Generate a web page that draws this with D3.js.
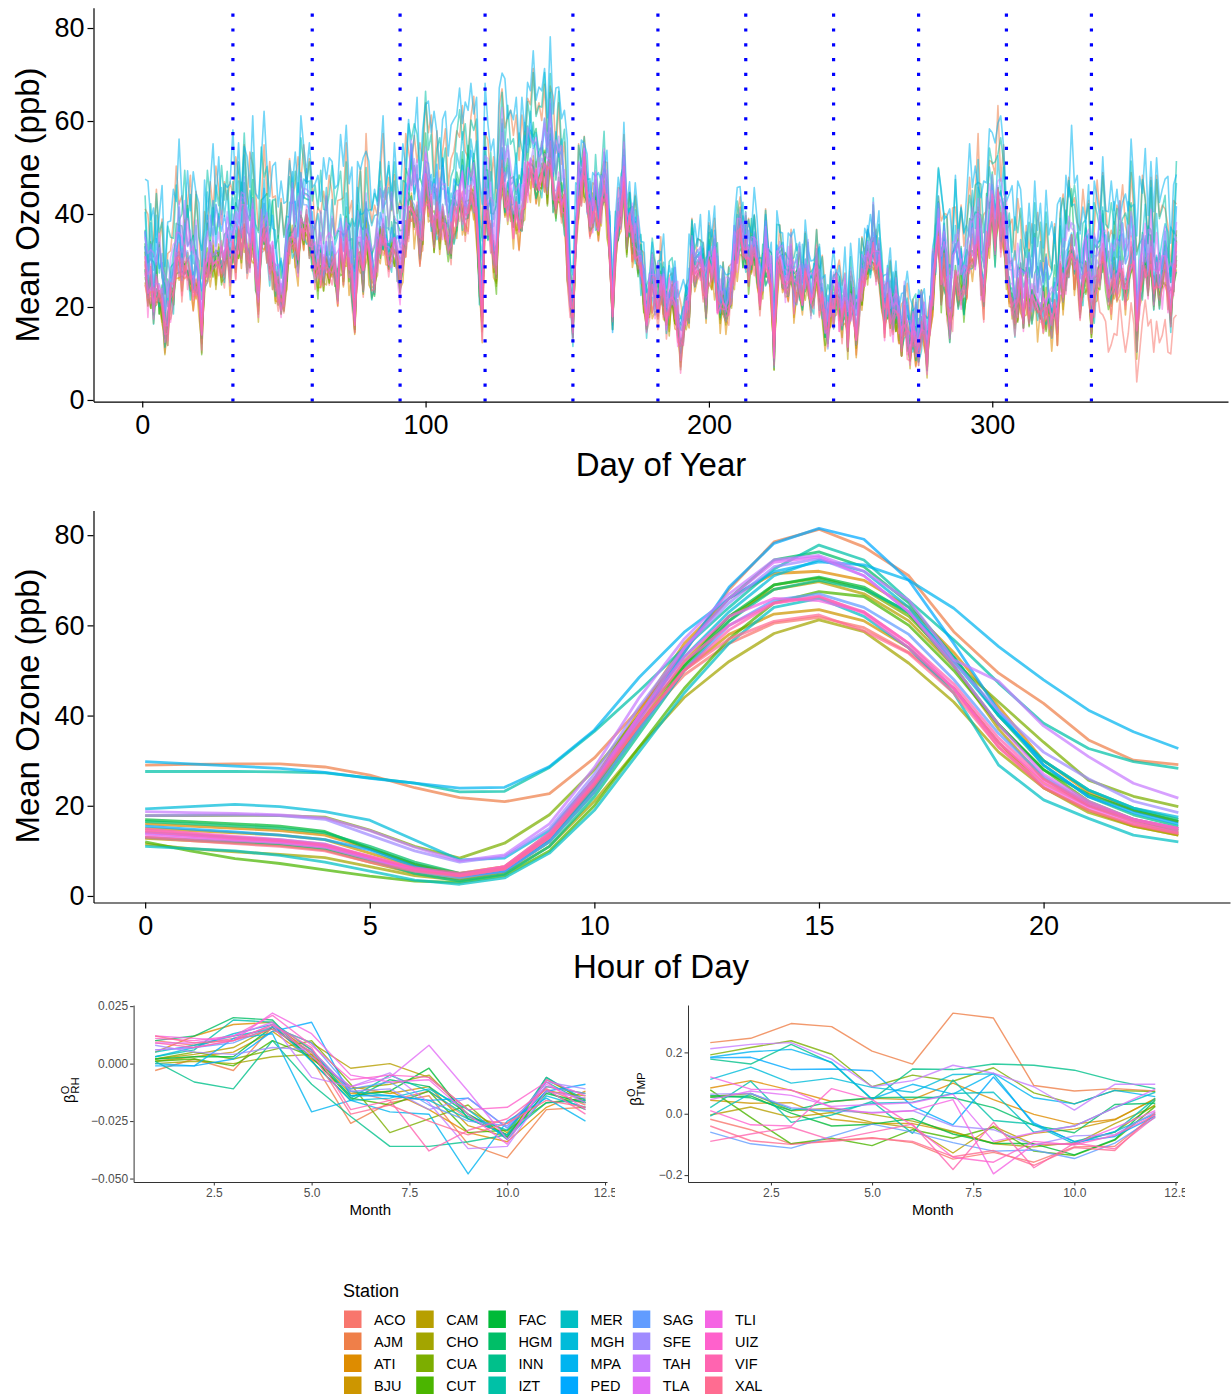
<!DOCTYPE html>
<html><head><meta charset="utf-8">
<script src="https://cdn.jsdelivr.net/npm/d3@7"></script>
<style>body{margin:0;background:#fff;} svg{display:block;font-family:"Liberation Sans",Arial,Helvetica,sans-serif;}</style>
</head><body>
<svg id="chart" width="1231" height="1397"></svg>
<script>
// ---------------- DATA ----------------
const stations = ["ACO","AJM","ATI","BJU","CAM","CHO","CUA","CUT","FAC","HGM","INN","IZT","MER","MGH","MPA","PED","SAG","SFE","TAH","TLA","TLI","UIZ","VIF","XAL"];
const stationColors = ["#F8766D","#EF7F49","#DE8C00","#CD9600","#B79F00","#A3A500","#7CAE00","#4BB500","#00BA38","#00BE67","#00C08B","#00C1A7","#00BFC4","#00BBDA","#00B4F0","#00A9FF","#619CFF","#A08BFF","#C77CFF","#E26EF6","#F564E3","#FF61CC","#FF64B0","#FF6C91"];

// first day of each month (vertical dotted lines)
const monthStarts = [32,60,91,121,152,182,213,244,274,305,335];
const topYTicks = [0,20,40,60,80];
const topXTicks = [0,100,200,300];

// network-median daily mean ozone (ppb), day 1..365
const dailyCore = [
30,22,25,20,24,22,21,15,17,21, 24,29,31,26,29,28,27,24,27,21, 15,26,29,29,30,29,31,30,29,32,
29,33,31,34,33,37,31,32,36,27, 22,34,37,33,30,29,26,24,22,21, 29,34,36,32,31,36,37,39,34,32,
29,27,29,27,30,27,30,28,25,32, 29,34,29,25,17,30,32,27,36,30, 27,24,32,34,36,32,30,33,34,29,
25,30,36,39,42,39,40,34,37,46, 43,40,37,40,36,39,37,35,34,39, 40,42,42,39,41,43,44,40,26,17,
43,38,36,31,28,42,49,44,43,41, 39,40,37,40,44,47,49,50,47,46, 49,50,47,53,44,42,46,43,41,31,
23,17,33,44,46,49,43,40,39,42, 39,41,47,40,32,17,33,38,41,46, 36,37,35,33,30,28,24,17,22,24,
22,20,24,22,18,19,23,20,16,10, 16,17,22,28,28,27,30,26,23,27, 29,28,23,19,22,17,21,25,29,32,
36,32,33,28,30,32,29,23,26,30, 28,24,10,27,30,26,24,26,29,23, 26,24,23,25,26,20,24,29,23,20,
17,14,21,19,23,19,17,23,14,20, 21,12,21,24,27,29,30,33,29,27, 24,17,21,19,17,20,17,13,17,14,
12,14,12,10,16,14,10,17,23,30, 36,24,29,22,16,20,27,25,24,22, 27,30,32,29,36,26,22,33,37,40,
34,42,36,37,29,23,21,19,22,24, 19,23,21,20,22,19,21,19,20,18, 17,20,17,26,23,27,30,34,29,27,
22,24,28,25,17,22,26,29,31,27, 23,22,27,24,29,25,23,27,31,29, 14,23,27,29,26,30,23,27,25,24,
30,23,20,25,31];

// per-station level above the median and day-to-day spread (ppb)
const stationOffset = [-1,6,-2,-1,-1,0,1,-1,1,3,2,6,-1,4,8,3,2,3,4,2,0,0,0,-1];
const stationAmp    = [2.6,3.4,1.8,1.7,1.7,1.7,1.8,1.7,1.8,2.4,2.2,3.2,1.8,2.6,3.8,2.2,2.0,2.2,2.2,2.0,1.8,1.7,1.7,1.7];
// per-station daily departure codes (digit 0..9, 4.5 = none), day 1..365
const stationNoise = [
"4536454354 5463545346 3545465435 4536453465 5436454354 3546453546 4536545435 5463454356 3546354546 4653545435 5436454536 4563545354 3546453546 5435465435 4536454354 5463545346 3546453546 4536545435 5346354546 4635454356 3546453546 5436454354 4563545346 3545465435 4536453465 5436454354 3546453546 4536545435 5463454356 3546354546 4653545435 5436454536 4563545354 3545464101 0101210010 1012100101 00120",
"6857968576 7968579687 6758697586 8697586978 7586978697 6857968587 5768697586 7968578697 6857968576 8697586978 7968579687 8797689798 7869798789 8979687978 6857968576 4536454354 3546453546 4536545435 5463454356 3546354546 4653545435 5436454536 4563545354 3546453546 5435465435 4536454354 3546453546 4536545435 5768697586 6857968576 7968578697 5768697586 6857968576 7968579687 6758697586 8697586978 67586",
"3546453546 5436454354 4563545346 2547364527 4536453465 6354273645 5436454536 3627453627 4653545435 5364725346 3546354546 4725364253 5463454356 2736452736 4536545435 6453726354 3545465435 3725463572 4563545354 4627354627 5273645372 3546453546 7362546372 4536454354 2645375264 5463545346 3546453546 4536545435 5436454354 3627453627 4653545435 5364725346 2547364527 4536453465 6354273645 5436454536 35464",
"5463545346 3627453627 4536454354 6453726354 3546453546 2645375264 4653545435 5273645372 3545465435 4725364253 5436454354 2736452736 4563545354 6354273645 3546354546 5364725346 4536545435 3725463572 5463454356 4627354627 2547364527 4536453465 7362546372 3546453546 5436454536 4563545346 6453726354 3545465435 4653545435 2645375264 5273645372 4536454354 3627453627 5463545346 4725364253 3546453546 45364",
"4725364253 3546453546 5364725346 4536545435 2736452736 5463454356 6354273645 3545465435 4627354627 5436454536 3725463572 4563545354 2547364527 4653545435 5273645372 3546354546 7362546372 4536453465 6453726354 5436454354 2645375264 3546453546 4536454354 5463545346 3627453627 4563545346 5364725346 2736452736 4725364253 3545465435 6354273645 5463454356 4627354627 3546354546 5436454536 2547364527 53647",
"2736452736 4653545435 6453726354 3546354546 5463454356 3725463572 4536453465 2645375264 5436454536 4563545354 7362546372 3545465435 4725364253 5273645372 3546453546 6354273645 4536545435 2547364527 5364725346 3627453627 4653545435 4627354627 5436454354 3546453546 4563545346 6453726354 2736452736 5463545346 3545465435 4536454354 5273645372 3725463572 4536453465 2645375264 5463454356 4653545435 37254",
"5364725346 2547364527 4563545354 6354273645 3546453546 4725364253 5436454354 2736452736 4653545435 3627453627 5463545346 4536545435 6453726354 3545465435 4627354627 5273645372 2645375264 4536454354 3725463572 5436454536 4563545346 7362546372 3546354546 4536453465 5463454356 2547364527 4725364253 6354273645 3546453546 5364725346 4653545435 2736452736 5436454354 3627453627 4563545354 6453726354 45637",
"3627453627 5436454536 2645375264 4563545346 6453726354 3546453546 5273645372 4536454354 2547364527 5463545346 4725364253 3545465435 6354273645 4653545435 3725463572 5364725346 4536453465 2736452736 5463454356 4627354627 3546354546 7362546372 4536545435 5436454354 2645375264 4563545354 6453726354 3546453546 5273645372 4536454354 2547364527 3627453627 5463545346 4725364253 3545465435 5436454536 26453",
"6453726354 4536453465 3546354546 5273645372 4627354627 2547364527 5463545346 3545465435 7362546372 4536545435 3627453627 5436454536 2645375264 4653545435 5364725346 3546453546 4725364253 6354273645 4563545354 2736452736 5436454354 3725463572 4536454354 5463454356 2547364527 3546453546 6453726354 4563545346 5273645372 3545465435 4627354627 2736452736 5364725346 4653545435 3546354546 6354273645 54634",
"6574686574 5768596857 6475867465 7586957685 5768596857 6574686574 7586957685 6475867465 5768596857 8697586978 6574686574 7586957685 6857968576 7586957685 6475867465 4536454354 3546453546 4563545346 5436454536 3627453627 4653545435 5364725346 3545465435 4725364253 5463454356 2736452736 4536545435 5273645372 6574686574 5768596857 6475867465 7586957685 5768596857 6574686574 7586957685 6475867465 57685",
"5768596857 6475867465 4536454354 6574686574 5463545346 7586957685 4653545435 5768596857 6354273645 6475867465 5436454536 7586957685 6574686574 5768596857 6475867465 3546453546 4725364253 2736452736 5463454356 3627453627 4563545354 5273645372 3545465435 4536453465 2645375264 5436454354 3725463572 4627354627 5768596857 6475867465 5463545346 6574686574 4653545435 7586957685 5364725346 6475867465 57685",
"7586978697 6857968587 8697586978 5768697586 7968578697 6758697586 8797689798 6857968576 7968579687 7869798789 6857968576 8979687978 7586978697 8697586978 7968579687 5436454536 4563545354 3546453546 5435465435 4536454354 5463545346 3546453546 4536545435 5346354546 4635454356 3546453546 5436454354 4563545346 7968579687 6758697586 8697586978 7586978697 6857968587 5768697586 7968578697 8697586978 75869",
"4563545346 2736452736 5436454536 3546453546 6354273645 4725364253 3545465435 5463545346 2645375264 4536454354 7362546372 3627453627 5364725346 4653545435 2547364527 5273645372 4536545435 6453726354 3546354546 4627354627 5436454354 3725463572 4563545354 2736452736 5463454356 4536453465 3545465435 6354273645 4725364253 5436454536 2645375264 4653545435 3546453546 5364725346 4536454354 3627453627 46273",
"7586957685 6574686574 8697586978 5768596857 6475867465 7586957685 6857968576 5768596857 7968579687 6475867465 6574686574 8697586978 7586957685 6857968576 5768596857 4653545435 3546453546 5436454354 4563545346 3627453627 5463545346 4725364253 3545465435 5273645372 4536454354 2736452736 5364725346 4563545354 6475867465 7586957685 5768596857 6857968576 7968579687 6574686574 8697586978 5768596857 68579",
"7968579687 8697586978 6857968576 7968578697 8797689798 6758697586 7869798789 8979687978 6857968587 7968579687 8797689798 8979897989 9879798978 8979687978 7869798789 4563545354 5436454536 4536545435 3546453546 5463545346 4635454356 5435465435 3546453546 4536454354 5346354546 4563545346 3546453546 5436454354 6857968576 7968579687 8797689798 7586978697 8697586978 6758697586 7968578697 8979687978 79687",
"6475867465 5463545346 7586957685 4536454354 6574686574 5768596857 4653545435 6475867465 5436454536 7586957685 5768596857 6574686574 4563545354 6857968576 5768596857 3546453546 5364725346 4536545435 2736452736 5463454356 3725463572 4627354627 5436454354 3545465435 4725364253 2645375264 4563545346 5273645372 6574686574 5463545346 6475867465 7586957685 4653545435 5768596857 6574686574 5436454536 64758",
"5436454536 6475867465 3546354546 5768596857 4563545354 6574686574 3627453627 5463545346 6475867465 4536453465 5768596857 3545465435 6574686574 4653545435 5436454354 2736452736 4725364253 5364725346 3546453546 4536545435 2645375264 5463454356 3725463572 4563545346 5273645372 3546453546 4627354627 6354273645 5768596857 4536454354 6475867465 5463545346 3545465435 6574686574 4653545435 5436454536 54364",
"6574686574 4536454354 5768596857 6475867465 3546453546 7586957685 5463545346 6574686574 4653545435 5768596857 6475867465 4563545354 7586957685 5436454536 6857968576 4725364253 3546354546 5463454356 2736452736 4536453465 5273645372 3627453627 4563545346 5364725346 2547364527 4653545435 3725463572 5436454354 6475867465 5768596857 4536545435 7586957685 6574686574 4563545354 5768596857 6475867465 45365",
"5768596857 7586957685 4563545346 6475867465 5436454536 6574686574 7586957685 4536545435 5768596857 6857968576 6475867465 5463545346 7968579687 6574686574 5768596857 3546453546 4627354627 5364725346 3725463572 4536454354 2645375264 5463545346 3545465435 4725364253 5436454354 2736452736 4563545354 5273645372 5768596857 6574686574 7586957685 4653545435 6475867465 5768596857 6857968576 4563545346 65746",
"4653545435 5768596857 3546453546 6475867465 4725364253 5436454354 6574686574 3545465435 5463545346 5768596857 4536454354 6475867465 3627453627 5364725346 4563545354 2547364527 5273645372 4536453465 6354273645 3546354546 4627354627 5436454536 2736452736 4653545435 3725463572 5463454356 4536545435 2645375264 5768596857 4563545346 6574686574 3546453546 5436454354 6475867465 4725364253 5768596857 46535",
"3545465435 4627354627 5463454356 2645375264 4536545435 6354273645 3546453546 5436454536 4725364253 2736452736 5364725346 4563545354 3627453627 6453726354 4536453465 5273645372 3546354546 4653545435 2547364527 5463545346 3725463572 4536454354 7362546372 5436454354 3545465435 4563545346 6354273645 2736452736 4627354627 5364725346 3546453546 4725364253 5463454356 2645375264 4536545435 5273645372 35454",
"5273645372 3545465435 4536453465 6453726354 2547364527 5436454354 4627354627 3546453546 5463454356 7362546372 4536545435 3725463572 5364725346 2645375264 4563545346 6354273645 3627453627 4653545435 5436454536 2736452736 4725364253 5463545346 3546354546 4536454354 6453726354 2547364527 5273645372 4563545354 3545465435 5436454354 4627354627 2736452736 5364725346 3546453546 4653545435 6354273645 52736",
"4627354627 5364725346 2736452736 4536454354 6354273645 3546453546 5463545346 2547364527 4653545435 5436454536 3725463572 4536453465 6453726354 2645375264 5273645372 4563545354 3545465435 5463454356 7362546372 4725364253 3627453627 5436454354 4536545435 2736452736 5364725346 3546354546 4653545435 6354273645 4563545346 2547364527 5273645372 3546453546 4536454354 6453726354 3725463572 5463545346 46273",
"2547364527 4653545435 5436454354 3627453627 6453726354 4536545435 2736452736 5364725346 3546453546 4725364253 5463454356 6354273645 3545465435 4563545346 5273645372 2645375264 4536453465 3725463572 5436454536 4627354627 3546354546 6453726354 5463545346 2547364527 4653545435 4536454354 7362546372 3546453546 5364725346 2736452736 4725364253 5436454354 3627453627 4563545354 6354273645 3545465435 25473"
];

// mean ozone by hour of day (0..23), one row per station (ppb)
const hourTicks = [0,5,10,15,20];
const hourlyOzone = [
[14.5,13.8,13.0,12.2,11.2,8.5,6.0,4.7,6.2,13.5,25.0,38.0,49.0,56.0,60.5,61.8,59.5,54.0,46.0,34.0,25.0,20.0,17.0,15.0],
[29.0,29.2,29.3,29.3,28.6,26.8,24.0,21.8,20.9,22.7,30.6,41.5,54.0,68.0,78.5,81.3,77.4,71.0,58.6,49.4,42.7,34.6,30.1,29.1],
[16.0,15.5,15.0,14.5,13.5,10.5,7.0,5.0,6.5,14.0,26.0,41.0,56.0,66.0,71.5,72.0,70.0,64.0,54.0,42.0,30.0,23.0,19.0,16.5],
[15.0,14.5,14.0,13.5,12.5,9.5,6.5,4.8,6.0,13.0,24.0,38.0,50.0,58.0,62.5,63.5,61.0,55.0,46.0,34.0,24.0,19.0,15.5,13.5],
[12.8,12.3,11.8,11.2,10.2,7.5,5.0,3.8,5.5,12.5,24.0,38.0,52.0,62.0,68.0,69.7,67.0,61.0,51.0,37.0,26.0,20.0,16.5,14.0],
[11.5,10.5,9.8,9.2,8.5,6.5,4.5,3.5,5.0,11.0,21.0,33.0,44.0,52.0,58.2,61.2,58.6,51.6,43.0,31.9,24.0,18.5,15.5,13.5],
[17.8,17.8,17.9,17.8,17.5,14.6,11.0,8.4,11.7,18.0,28.0,40.0,51.0,61.0,69.0,70.5,68.0,62.0,52.0,43.0,34.1,25.7,22.1,19.8],
[12.0,10.0,8.3,7.2,5.8,4.4,3.3,3.0,4.5,10.0,20.0,33.0,46.0,57.0,65.0,67.5,66.4,60.0,50.0,38.0,28.0,21.0,17.0,14.5],
[16.9,16.5,16.0,15.5,14.3,10.5,7.0,4.5,5.5,12.0,23.0,37.0,51.0,62.0,69.0,70.7,68.5,62.7,51.0,38.0,28.0,22.5,19.0,16.5],
[16.5,16.0,15.5,15.0,14.0,11.0,7.5,5.0,6.0,13.0,25.0,40.0,55.0,66.0,74.5,76.3,73.0,65.0,53.0,40.0,30.0,23.5,19.5,17.0],
[13.0,12.5,12.0,11.5,10.5,8.0,5.0,3.3,4.8,11.0,22.0,36.0,50.0,61.0,68.0,70.0,68.0,63.0,53.0,40.0,29.0,22.0,18.0,15.5],
[27.6,27.6,27.6,27.5,27.3,26.2,25.0,23.1,23.2,28.5,36.5,45.5,55.0,64.0,72.5,77.8,74.5,65.5,56.8,47.2,38.3,32.7,29.8,28.3],
[11.0,10.5,10.0,9.0,7.5,5.5,3.5,2.6,4.0,9.5,19.0,32.0,45.0,56.0,64.0,66.0,62.0,55.0,45.0,29.0,21.3,17.2,13.5,12.0],
[19.3,19.8,20.3,19.8,18.7,16.8,12.4,8.0,8.4,14.5,26.0,40.0,53.0,63.0,71.0,74.5,72.0,64.0,52.0,40.0,30.0,23.5,19.5,17.5],
[29.8,29.3,28.8,28.3,27.4,26.1,25.0,23.9,24.1,28.7,36.8,48.5,58.5,66.0,71.9,74.1,73.4,70.0,63.8,55.3,47.9,41.2,36.4,32.7],
[15.5,14.8,14.2,13.5,12.5,10.2,6.5,4.3,5.5,12.5,24.0,39.0,54.0,68.5,78.2,81.5,79.1,70.0,56.0,41.0,29.0,22.0,18.5,16.0],
[14.0,13.5,13.0,12.5,11.5,8.5,5.5,4.0,5.5,12.0,23.0,37.0,50.0,60.0,65.6,67.0,64.0,58.0,48.0,36.0,26.5,20.5,17.0,15.0],
[17.8,17.9,18.0,17.8,17.0,13.5,10.0,7.5,8.8,15.0,27.0,42.0,55.0,65.0,73.0,74.8,71.0,63.0,52.0,41.0,31.9,26.0,21.0,18.5],
[18.7,18.5,18.3,18.0,17.3,14.5,10.8,7.8,9.1,16.0,28.5,44.0,57.0,67.0,74.5,75.5,72.0,65.6,52.4,47.6,37.7,30.9,25.0,21.7],
[13.8,13.2,12.5,12.0,11.0,8.5,5.8,4.5,6.0,13.0,25.0,40.0,55.0,66.0,74.0,75.2,71.0,63.0,51.0,38.0,27.0,21.0,17.0,15.0],
[13.3,12.8,12.3,11.8,10.8,8.2,5.8,4.7,6.5,14.0,26.0,40.0,53.0,62.0,66.0,65.5,63.0,56.0,46.0,33.0,24.5,19.5,16.0,14.0],
[14.8,14.0,13.2,12.5,11.5,8.8,6.0,4.5,6.0,13.0,25.0,39.0,52.0,60.0,65.0,66.5,62.7,55.0,46.0,34.0,25.5,20.0,16.5,14.5],
[14.2,13.5,12.8,12.2,11.2,8.8,6.2,5.0,6.5,13.5,25.0,38.0,50.0,59.0,64.9,66.3,63.0,56.0,47.0,35.0,26.0,20.5,17.0,15.0],
[13.0,12.3,11.6,11.0,10.0,7.5,5.5,4.4,6.0,13.0,24.5,38.0,50.0,57.0,60.9,62.3,58.8,53.8,45.0,33.0,24.0,19.0,15.8,13.8]
];

// monthly regression coefficients, months 1..12, one row per station
const monthTicks = [2.5,5,7.5,10,12.5];
const rhTicks = [-0.05,-0.025,0,0.025];
const tmpTicks = [-0.2,0,0.2];
const betaRH = [
[0.010,0.008,0.011,0.016,0.006,-0.012,-0.016,-0.012,-0.024,-0.026,-0.011,-0.018],
[-0.003,0.002,-0.003,0.016,0.002,-0.026,-0.017,-0.014,-0.035,-0.041,-0.020,-0.019],
[0.005,0.012,0.017,0.018,0.004,-0.013,-0.012,-0.020,-0.030,-0.034,-0.019,-0.012],
[0.001,0.003,0.005,0.014,0.002,-0.010,-0.013,-0.010,-0.027,-0.032,-0.012,-0.014],
[0.002,0.004,0.007,0.016,0.009,-0.002,0.000,-0.006,-0.020,-0.030,-0.007,-0.016],
[0.000,0.001,0.000,0.003,0.004,-0.011,-0.009,-0.005,-0.022,-0.031,-0.010,-0.013],
[0.002,0.005,0.002,0.006,0.010,-0.009,-0.030,-0.024,-0.018,-0.033,-0.006,-0.017],
[0.001,0.002,-0.001,0.010,0.003,-0.015,-0.018,-0.012,-0.030,-0.029,-0.017,-0.015],
[0.002,0.003,0.003,0.016,0.003,-0.014,-0.012,-0.002,-0.024,-0.031,-0.013,-0.017],
[0.010,0.012,0.020,0.019,0.001,-0.016,-0.007,-0.010,-0.022,-0.032,-0.012,-0.020],
[0.001,-0.008,-0.011,0.010,-0.009,-0.023,-0.036,-0.036,-0.034,-0.031,-0.017,-0.016],
[0.003,0.006,0.019,0.018,0.006,-0.015,-0.005,-0.012,-0.023,-0.029,-0.008,-0.017],
[0.005,0.008,0.012,0.015,0.005,-0.012,-0.014,-0.016,-0.024,-0.031,-0.006,-0.016],
[0.003,0.007,0.013,0.017,0.001,-0.016,-0.015,-0.011,-0.020,-0.033,-0.014,-0.019],
[0.000,-0.001,0.011,0.013,-0.021,-0.016,-0.021,-0.022,-0.048,-0.025,-0.015,-0.025],
[-0.001,-0.001,0.002,0.014,0.018,-0.014,-0.014,-0.016,-0.015,-0.028,-0.012,-0.009],
[0.006,0.007,0.009,0.016,0.009,-0.011,-0.008,-0.018,-0.025,-0.027,-0.010,-0.013],
[0.008,0.005,0.004,0.007,0.006,-0.012,-0.011,-0.020,-0.015,-0.028,-0.008,-0.011],
[0.006,0.007,0.010,0.017,-0.006,-0.010,-0.004,-0.017,-0.037,-0.036,-0.012,-0.015],
[0.009,0.009,0.012,0.018,0.003,-0.010,-0.006,0.008,-0.012,-0.033,-0.009,-0.017],
[0.012,0.011,0.010,0.022,0.013,-0.005,-0.008,-0.007,-0.022,-0.035,-0.007,-0.014],
[0.011,0.010,0.012,0.021,0.008,-0.007,-0.005,-0.006,-0.020,-0.019,-0.008,-0.020],
[0.009,0.007,0.010,0.017,0.007,-0.020,-0.016,-0.038,-0.029,-0.024,-0.011,-0.022],
[0.012,0.009,0.010,0.015,0.005,-0.022,-0.018,-0.025,-0.031,-0.026,-0.016,-0.019]
];
const betaTMP = [
[-0.018,-0.052,-0.098,-0.088,-0.078,-0.094,-0.148,-0.126,-0.158,-0.108,-0.106,-0.002],
[0.232,0.246,0.294,0.284,0.204,0.162,0.328,0.312,0.092,0.074,0.082,0.074],
[0.084,0.108,0.076,0.040,0.050,0.046,0.100,0.046,-0.002,-0.034,-0.018,0.048],
[0.044,0.034,0.036,-0.018,-0.032,-0.032,-0.060,-0.096,-0.064,-0.050,-0.020,0.050],
[-0.004,0.022,-0.012,0.004,-0.028,-0.046,-0.128,-0.040,-0.100,-0.100,-0.032,0.026],
[0.056,0.066,0.010,0.018,-0.002,-0.024,-0.058,-0.098,-0.108,-0.094,-0.060,0.030],
[0.192,0.216,0.238,0.194,0.088,0.126,0.106,0.150,0.068,0.032,0.076,0.072],
[0.078,-0.012,-0.098,-0.080,-0.104,-0.052,-0.080,-0.044,-0.122,-0.136,-0.086,0.024],
[0.054,0.058,0.002,-0.040,-0.034,-0.016,-0.066,-0.096,-0.098,-0.134,-0.084,0.044],
[0.060,0.052,0.010,0.040,0.052,0.054,0.052,0.020,-0.038,-0.062,0.030,0.034],
[0.178,0.162,0.226,0.166,0.046,0.146,0.144,0.162,0.158,0.142,0.108,0.082],
[0.020,0.106,-0.028,-0.004,0.040,-0.064,0.110,-0.022,-0.034,-0.090,-0.060,0.050],
[-0.008,0.066,0.016,0.008,0.034,0.038,0.066,0.070,-0.060,-0.040,0.020,0.070],
[0.112,0.152,0.100,0.116,0.086,0.070,0.128,0.130,-0.036,-0.098,-0.058,0.000],
[0.184,0.202,0.210,0.168,0.048,0.096,0.064,0.132,0.052,0.032,0.076,0.056],
[0.182,0.184,0.144,0.146,0.140,0.024,-0.036,0.120,-0.030,-0.092,-0.074,-0.008],
[-0.060,-0.098,-0.112,-0.074,-0.034,-0.060,-0.094,-0.122,-0.118,-0.146,-0.096,-0.012],
[0.064,0.066,0.020,0.010,0.004,0.010,-0.040,-0.052,-0.102,-0.072,-0.068,0.006],
[0.212,0.226,0.232,0.178,0.088,0.108,0.158,0.132,0.088,0.012,0.096,0.096],
[0.046,0.074,0.060,0.024,0.030,0.036,0.064,-0.090,-0.062,-0.040,0.020,0.080],
[0.120,0.080,0.078,0.020,0.002,0.010,0.046,-0.196,-0.100,-0.098,-0.046,0.010],
[0.010,-0.036,-0.040,0.082,0.046,-0.038,-0.142,-0.158,-0.090,-0.102,-0.070,-0.004],
[-0.090,-0.066,-0.044,-0.086,-0.060,-0.034,-0.182,-0.028,-0.176,-0.096,-0.114,-0.010],
[-0.040,-0.088,-0.100,-0.090,-0.080,-0.090,-0.140,-0.120,-0.168,-0.110,-0.120,0.004]
];

// ---------------- DRAWING ----------------
const svg = d3.select('#chart');
svg.append('rect').attr('width',1231).attr('height',1397).attr('fill','#fff');
const minus = s => s.replace('-', '\u2212');

function styleAxis(g, fs, color, lineColor, lw) {
  g.select('.domain').attr('stroke', lineColor).attr('stroke-width', lw);
  g.selectAll('.tick line').attr('stroke', lineColor).attr('stroke-width', lw);
  g.selectAll('.tick text').attr('font-size', fs).attr('fill', color)
    .attr('font-family','"Liberation Sans",Arial,sans-serif');
}
function rotTitle(x, y, txt, fs) {
  svg.append('text').attr('transform', `translate(${x},${y}) rotate(-90)`)
    .attr('text-anchor','middle').attr('font-size', fs).attr('fill','#000').text(txt);
}

// ===== Panel 1: daily =====
const dayIdx = d3.range(1, dailyCore.length + 1);
const x1 = d3.scaleLinear().domain([-17.2, 383.2]).range([93.5, 1228]);
const y1 = d3.scaleLinear().domain([-0.35, 84.35]).range([401.6, 7.8]);
const line1 = d3.line().x((v,i)=>x1(dayIdx[i])).y(v=>y1(v));
const g1 = svg.append('g');
stations.forEach((s, si) => {
  const code = stationNoise[si].replace(/\s/g,'');
  const vals = dailyCore.map((c, i) => {
    const ch = code.charCodeAt(i);
    const n = (ch >= 48 && ch <= 57) ? (ch - 48 - 4.5) : 0;
    return c + stationOffset[si] + stationAmp[si] * n;
  });
  g1.append('path').attr('d', line1(vals)).attr('fill','none')
    .attr('stroke', stationColors[si]).attr('stroke-width', 1.6)
    .attr('stroke-opacity', 0.55).attr('stroke-linejoin','round');
});
svg.append('g').selectAll('line').data(monthStarts).join('line')
  .attr('x1', d=>x1(d)).attr('x2', d=>x1(d)).attr('y1', 401.6).attr('y2', 7.8)
  .attr('stroke','#0000FF').attr('stroke-width', 3.2).attr('stroke-dasharray','3.2 11.6');
const ax1 = svg.append('g').attr('transform','translate(0,401.6)')
  .call(d3.axisBottom(x1).tickValues(topXTicks).tickSize(6).tickSizeOuter(0).tickPadding(7));
styleAxis(ax1, 27, '#000', '#000', 1.2);
const ay1 = svg.append('g').attr('transform','translate(93.5,0)')
  .call(d3.axisLeft(y1).tickValues(topYTicks).tickSize(6).tickSizeOuter(0).tickPadding(3));
styleAxis(ay1, 27, '#000', '#000', 1.2);
svg.append('text').attr('x', 661).attr('y', 476).attr('text-anchor','middle')
  .attr('font-size', 33).text('Day of Year');
rotTitle(39, 205, 'Mean Ozone (ppb)', 33);

// ===== Panel 2: hourly =====
const hours = d3.range(24);
const x2 = d3.scaleLinear().domain([-1.15, 24.15]).range([93.5, 1230]);
const y2 = d3.scaleLinear().domain([-1.45, 85.45]).range([902.5, 510.6]);
const line2 = d3.line().x((v,i)=>x2(hours[i])).y(v=>y2(v));
const g2 = svg.append('g');
hourlyOzone.forEach((vals, si) => {
  g2.append('path').attr('d', line2(vals)).attr('fill','none')
    .attr('stroke', stationColors[si]).attr('stroke-width', 2.8)
    .attr('stroke-opacity', 0.72).attr('stroke-linejoin','round');
});
const ax2 = svg.append('g').attr('transform','translate(0,902.5)')
  .call(d3.axisBottom(x2).tickValues(hourTicks).tickSize(6).tickSizeOuter(0).tickPadding(7));
styleAxis(ax2, 27, '#000', '#000', 1.2);
const ay2 = svg.append('g').attr('transform','translate(93.5,0)')
  .call(d3.axisLeft(y2).tickValues(topYTicks).tickSize(6).tickSizeOuter(0).tickPadding(3));
styleAxis(ay2, 27, '#000', '#000', 1.2);
svg.append('text').attr('x', 661).attr('y', 978).attr('text-anchor','middle')
  .attr('font-size', 33).text('Hour of Day');
rotTitle(39, 706, 'Mean Ozone (ppb)', 33);

// ===== Panels 3 & 4: monthly betas =====
const months = d3.range(1, 13);
function betaPanel(data, xRange, yDomain, yTicks, yFmt, clipRight, clipId, titleX, titleY, sub) {
  const defs = svg.append('defs');
  defs.append('clipPath').attr('id', clipId).append('rect')
    .attr('x', xRange[0] - 120).attr('y', 990).attr('width', clipRight - (xRange[0] - 120)).attr('height', 240);
  const g = svg.append('g').attr('clip-path', `url(#${clipId})`);
  const x = d3.scaleLinear().domain([0.45, 12.55]).range(xRange);
  const y = d3.scaleLinear().domain(yDomain).range([1182, 1005]);
  const ln = d3.line().x((v,i)=>x(months[i])).y(v=>y(v));
  data.forEach((vals, si) => {
    g.append('path').attr('d', ln(vals)).attr('fill','none')
      .attr('stroke', stationColors[si]).attr('stroke-width', 1.4)
      .attr('stroke-opacity', 0.8).attr('stroke-linejoin','round');
  });
  const ax = g.append('g').attr('transform','translate(0,1182)')
    .call(d3.axisBottom(x).tickValues(monthTicks).tickFormat(d3.format('.1f')).tickSize(3.5).tickSizeOuter(0).tickPadding(2.5));
  styleAxis(ax, 12, '#4D4D4D', '#333', 1);
  const ay = g.append('g').attr('transform',`translate(${xRange[0]},0)`)
    .call(d3.axisLeft(y).tickValues(yTicks).tickFormat(d => minus(yFmt(d))).tickSize(3.5).tickSizeOuter(0).tickPadding(2));
  styleAxis(ay, 12, '#4D4D4D', '#333', 1);
  svg.append('text').attr('x', (xRange[0] + xRange[1]) / 2).attr('y', 1215)
    .attr('text-anchor','middle').attr('font-size', 15).attr('fill','#000').text('Month');
  const t = svg.append('text').attr('transform', `translate(${titleX},${titleY}) rotate(-90)`)
    .attr('text-anchor','middle').attr('fill','#000');
  t.append('tspan').attr('font-size', 15).text('β');
  t.append('tspan').attr('font-size', 11).attr('dy', -6).text('O');
  t.append('tspan').attr('font-size', 11.5).attr('dy', 10).attr('dx', -8).text(sub);
}
betaPanel(betaRH, [133.6, 607], [-0.0515, 0.0255], rhTicks, d3.format('.3f'), 615, 'clipL', 75, 1090, 'RH');
betaPanel(betaTMP, [688, 1177.5], [-0.2225, 0.3545], tmpTicks, d3.format('.1f'), 1185, 'clipR', 641, 1089, 'TMP');

// ===== Legend =====
const lg = svg.append('g');
lg.append('text').attr('x', 343).attr('y', 1297).attr('font-size', 18).attr('fill','#000').text('Station');
stations.forEach((s, i) => {
  const col = Math.floor(i / 4), row = i % 4;
  const kx = 344 + col * 72.2, ky = 1310.5 + row * 22;
  lg.append('rect').attr('x', kx).attr('y', ky).attr('width', 17.5).attr('height', 17.5)
    .attr('fill', stationColors[i]);
  lg.append('text').attr('x', kx + 30).attr('y', ky + 14).attr('font-size', 14.5)
    .attr('fill','#000').text(s);
});
</script>
</body></html>
